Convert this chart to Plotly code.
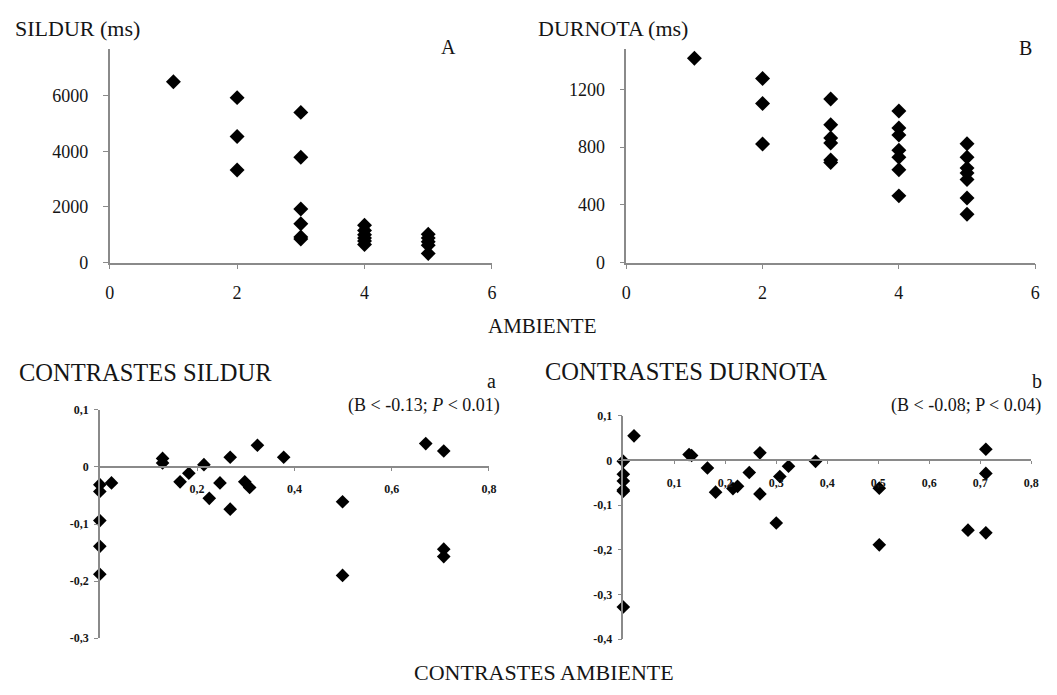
import plotly.graph_objects as go

W, H = 1057, 695

# ---------------- data ----------------
ambiente_A = [1, 2, 2, 2, 3, 3, 3, 3, 3, 3, 4, 4, 4, 4, 4, 4, 5, 5, 5, 5, 5]
sildur = [6500, 5930, 4530, 3330, 5400, 3790, 1930, 1400, 920, 850,
          1340, 1150, 1000, 880, 780, 650, 1020, 880, 750, 620, 330]

ambiente_B = [1, 2, 2, 2, 3, 3, 3, 3, 3, 3, 4, 4, 4, 4, 4, 4, 4, 5, 5, 5, 5, 5, 5, 5]
durnota = [1415, 1275, 1101, 821, 1132, 954, 862, 828, 711, 693,
           1049, 932, 884, 778, 729, 643, 462, 823, 729, 654, 620, 575, 447, 334]

cont_amb_a = [0, 0, 0.024, 0, 0, 0, 0.129, 0.129, 0.165, 0.183, 0.214, 0.225, 0.247,
              0.268, 0.268, 0.298, 0.308, 0.324, 0.378, 0.499, 0.499, 0.670, 0.707, 0.707, 0.707]
cont_sildur = [-0.031, -0.043, -0.028, -0.094, -0.139, -0.188, 0.015, 0.007, -0.026, -0.011,
               0.004, -0.055, -0.028, 0.017, -0.074, -0.026, -0.036, 0.038, 0.017, -0.061,
               -0.190, 0.041, 0.028, -0.144, -0.157]

cont_amb_b = [0.021, 0, 0, 0, 0, 0, 0, 0.129, 0.134, 0.165, 0.181, 0.215, 0.224, 0.247,
              0.268, 0.268, 0.300, 0.307, 0.324, 0.377, 0.502, 0.502, 0.676, 0.711, 0.711, 0.711]
cont_durnota = [0.055, -0.002, -0.031, -0.046, -0.066, -0.069, -0.328, 0.013, 0.011, -0.017,
                -0.071, -0.063, -0.058, -0.027, 0.017, -0.075, -0.140, -0.036, -0.013, -0.002,
                -0.062, -0.189, -0.156, -0.162, 0.025, -0.029]

top_x_ticks = [0, 2, 4, 6]
sildur_ticks = [0, 2000, 4000, 6000]
durnota_ticks = [0, 400, 800, 1200]
a_x_ticks = [0.2, 0.4, 0.6, 0.8]
a_y_ticks = [-0.3, -0.2, -0.1, 0, 0.1]
b_x_ticks = [0.1, 0.2, 0.3, 0.4, 0.5, 0.6, 0.7, 0.8]
b_y_ticks = [-0.4, -0.3, -0.2, -0.1, 0, 0.1]


def comma(v):
    return ("%g" % v).replace(".", ",")


# ---------------- layout helpers ----------------
def px_x(p):
    return p / W


def px_y(p):
    return 1 - p / H


FONT = "Liberation Serif"
AX = "#8a8a8a"
TXT = "#151515"

fig = go.Figure()

marker_top = dict(symbol="diamond", size=11.5, color="black")
marker_bot = dict(symbol="diamond", size=10.5, color="black")

fig.add_trace(go.Scatter(x=ambiente_A, y=sildur, mode="markers", marker=marker_top,
                         xaxis="x", yaxis="y", cliponaxis=False))
fig.add_trace(go.Scatter(x=ambiente_B, y=durnota, mode="markers", marker=marker_top,
                         xaxis="x2", yaxis="y2", cliponaxis=False))
fig.add_trace(go.Scatter(x=cont_amb_a, y=cont_sildur, mode="markers", marker=marker_bot,
                         xaxis="x3", yaxis="y3", cliponaxis=False))
fig.add_trace(go.Scatter(x=cont_amb_b, y=cont_durnota, mode="markers", marker=marker_bot,
                         xaxis="x4", yaxis="y4", cliponaxis=False))

top_font = dict(family=FONT, size=18, color=TXT)
bot_font = dict(family=FONT, size=12, color=TXT, weight="bold")

common = dict(showgrid=False, zeroline=False, showline=True, linecolor=AX, linewidth=1.5,
              ticks="outside", tickcolor=AX, ticklen=5, tickwidth=1.2)

# domains (paper fractions from pixel boxes)
dA_x = [px_x(106), px_x(493)]
dB_x = [px_x(629), px_x(1043)]
dTop_y = [px_y(262), px_y(43)]
da_x = [px_x(96), px_x(490)]
da_y = [px_y(647), px_y(413)]
db_x = [px_x(626), px_x(1039)]
db_y = [px_y(648), px_y(419)]

a_range = [-0.3, 0.1]
b_range = [-0.4, 0.1]
a_zero = da_y[0] + (0 - a_range[0]) / (a_range[1] - a_range[0]) * (da_y[1] - da_y[0])
b_zero = db_y[0] + (0 - b_range[0]) / (b_range[1] - b_range[0]) * (db_y[1] - db_y[0])

fig.update_layout(
    width=W, height=H, margin=dict(l=0, r=0, t=0, b=0),
    paper_bgcolor="white", plot_bgcolor="white", showlegend=False,
    font=dict(family=FONT, color=TXT),
    xaxis=dict(domain=dA_x, anchor="y", range=[0, 6], tickvals=top_x_ticks,
               tickfont=top_font, ticklabelstandoff=8, **common),
    yaxis=dict(domain=dTop_y, anchor="x", range=[0, 7680], tickvals=sildur_ticks,
               tickfont=top_font, ticklabelstandoff=11, **common),
    xaxis2=dict(domain=dB_x, anchor="y2", range=[0, 6], tickvals=top_x_ticks,
                tickfont=top_font, ticklabelstandoff=8, **common),
    yaxis2=dict(domain=dTop_y, anchor="x2", range=[0, 1479], tickvals=durnota_ticks,
                tickfont=top_font, ticklabelstandoff=11, **common),
    xaxis3=dict(domain=da_x, anchor="free", position=a_zero, range=[0, 0.8],
                tickvals=a_x_ticks, ticktext=[comma(v) for v in a_x_ticks],
                tickfont=bot_font, ticklabelstandoff=8,
                **{**common, "ticklen": 3}),
    yaxis3=dict(domain=da_y, anchor="x3", range=a_range,
                tickvals=a_y_ticks, ticktext=[comma(v) for v in a_y_ticks],
                tickfont=bot_font, ticklabelstandoff=3,
                **{**common, "ticklen": 4}),
    xaxis4=dict(domain=db_x, anchor="free", position=b_zero, range=[0, 0.8],
                tickvals=b_x_ticks, ticktext=[comma(v) for v in b_x_ticks],
                tickfont=bot_font, ticklabelstandoff=8,
                **{**common, "ticklen": 3}),
    yaxis4=dict(domain=db_y, anchor="x4", range=b_range,
                tickvals=b_y_ticks, ticktext=[comma(v) for v in b_y_ticks],
                tickfont=bot_font, ticklabelstandoff=3,
                **{**common, "ticklen": 4}),
)


def label(text, x, y, size, xanchor="left", **kw):
    fig.add_annotation(text=text, x=px_x(x), y=px_y(y), xref="paper", yref="paper",
                       xanchor=xanchor, yanchor="middle", showarrow=False,
                       font=dict(family=FONT, size=size, color=TXT), **kw)


label("SILDUR (ms)", 8, 22, 22)
label("A", 449, 41, 20, xanchor="center")
label("DURNOTA (ms)", 538, 22, 22)
label("B", 1033, 42, 20, xanchor="center")
label("AMBIENTE", 544, 327, 21, xanchor="center")
label("CONTRASTES SILDUR", 12, 375, 24.5)
label("a", 493, 383, 20, xanchor="center")
label("(B &lt; -0.13; <i>P</i> &lt; 0.01)", 503, 408, 18, xanchor="right")
label("CONTRASTES DURNOTA", 545, 374, 24.5)
label("b", 1045, 383, 20, xanchor="center")
label("(B &lt; -0.08; P &lt; 0.04)", 1051, 408, 18, xanchor="right")
label("CONTRASTES AMBIENTE", 546, 682, 22, xanchor="center")

fig.write_html("out.html", config={"displayModeBar": False},
               post_script="document.body.style.margin='0';document.body.style.overflow='hidden';")
